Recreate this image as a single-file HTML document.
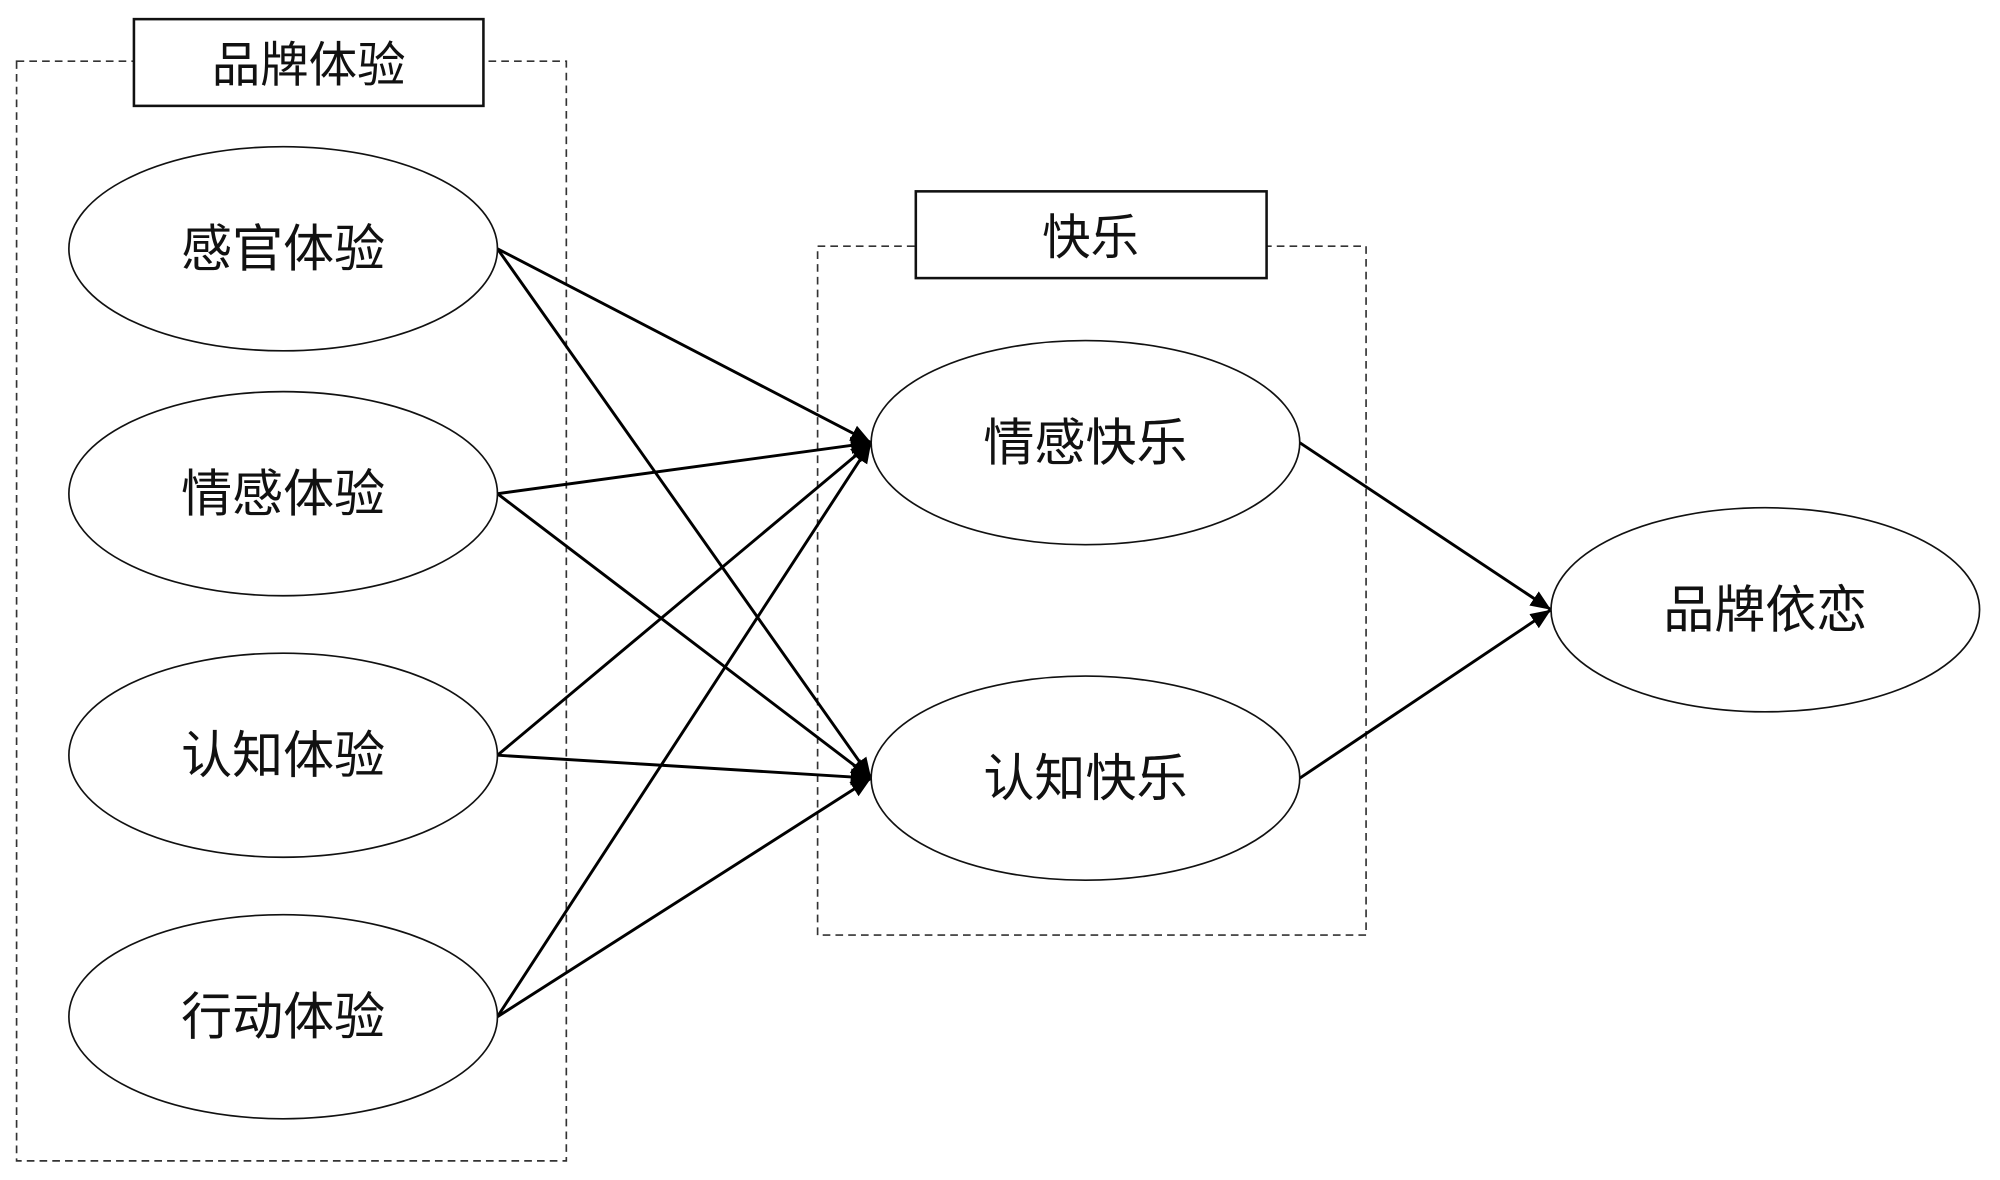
<!DOCTYPE html>
<html><head><meta charset="utf-8"><style>
html,body{margin:0;padding:0;background:#fff;}
svg{display:block;}
text{font-family:"Liberation Sans","Noto Sans CJK SC",sans-serif;fill:#111;}
</style></head><body>
<svg width="2000" height="1180" viewBox="0 0 1568 925" preserveAspectRatio="none" xmlns="http://www.w3.org/2000/svg">
<defs>
<marker id="a" viewBox="0 0 10 10" refX="9" refY="5" markerWidth="5" markerHeight="5" orient="auto" markerUnits="userSpaceOnUse">
</marker>
<marker id="ar" viewBox="0 0 12 10" refX="12" refY="5" markerWidth="16" markerHeight="14" orient="auto" markerUnits="userSpaceOnUse">
<path d="M0,0 L12,5 L0,10 z" fill="#000"/>
</marker>
</defs>
<rect x="0" y="0" width="1568" height="925" fill="#fff"/>
<!-- dashed boxes -->
<rect x="13" y="48" width="431" height="862" fill="none" stroke="#333" stroke-width="1.3" stroke-dasharray="6,4"/>
<rect x="641" y="193" width="430" height="540" fill="none" stroke="#333" stroke-width="1.3" stroke-dasharray="6,4"/>
<!-- title boxes -->
<rect x="105" y="15" width="274" height="68" fill="#fff" stroke="#111" stroke-width="2"/>
<text x="242" y="64" font-size="38" text-anchor="middle">品牌体验</text>
<rect x="718" y="150" width="275" height="68" fill="#fff" stroke="#111" stroke-width="2"/>
<text x="855" y="199" font-size="38" text-anchor="middle">快乐</text>
<!-- connectors -->
<g stroke="#000" stroke-width="2.3" fill="none" marker-end="url(#ar)">
<line x1="390" y1="195" x2="683" y2="347"/>
<line x1="390" y1="195" x2="683" y2="610"/>
<line x1="390" y1="387" x2="683" y2="347"/>
<line x1="390" y1="387" x2="683" y2="610"/>
<line x1="390" y1="592" x2="683" y2="347"/>
<line x1="390" y1="592" x2="683" y2="610"/>
<line x1="390" y1="797" x2="683" y2="347"/>
<line x1="390" y1="797" x2="683" y2="610"/>
<line x1="1019" y1="347" x2="1216" y2="478"/>
<line x1="1019" y1="610" x2="1216" y2="478"/>
</g>
<!-- ellipses -->
<g fill="#fff" stroke="#111" stroke-width="1.3">
<ellipse cx="222" cy="195" rx="168" ry="80"/>
<ellipse cx="222" cy="387" rx="168" ry="80"/>
<ellipse cx="222" cy="592" rx="168" ry="80"/>
<ellipse cx="222" cy="797" rx="168" ry="80"/>
<ellipse cx="851" cy="347" rx="168" ry="80"/>
<ellipse cx="851" cy="610" rx="168" ry="80"/>
<ellipse cx="1384" cy="478" rx="168" ry="80"/>
</g>
<g font-size="40" text-anchor="middle">
<text x="222" y="209">感官体验</text>
<text x="222" y="401">情感体验</text>
<text x="222" y="606">认知体验</text>
<text x="222" y="811">行动体验</text>
<text x="851" y="361">情感快乐</text>
<text x="851" y="624">认知快乐</text>
<text x="1384" y="492">品牌依恋</text>
</g>
</svg>
</body></html>
